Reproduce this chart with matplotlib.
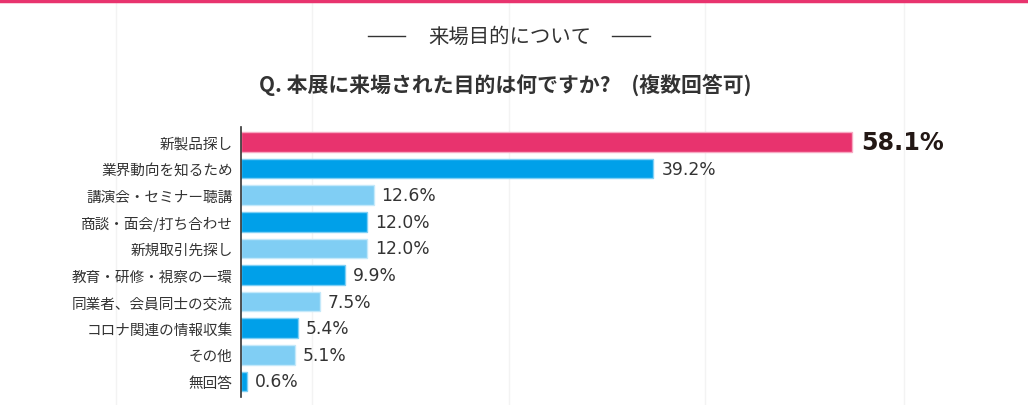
import matplotlib
matplotlib.use("Agg")
import matplotlib.pyplot as plt
from matplotlib.lines import Line2D
from matplotlib.font_manager import FontProperties

plt.rcParams['font.family'] = ['Noto Sans CJK JP', 'DejaVu Sans']

categories = ["新製品探し", "業界動向を知るため", "講演会・セミナー聴講", "商談・面会/打ち合わせ",
              "新規取引先探し", "教育・研修・視察の一環", "同業者、会員同士の交流",
              "コロナ関連の情報収集", "その他", "無回答"]
values = [58.1, 39.2, 12.6, 12.0, 12.0, 9.9, 7.5, 5.4, 5.1, 0.6]
value_labels = ["58.1%", "39.2%", "12.6%", "12.0%", "12.0%", "9.9%", "7.5%", "5.4%", "5.1%", "0.6%"]
title = "来場目的について"
subtitle = "Q. 本展に来場された目的は何ですか?　(複数回答可)"

PINK = "#E8336E"
BLUE = "#00A0E9"
LIGHT = "#80CEF4"
colors = [PINK] + [BLUE if i % 2 == 1 else LIGHT for i in range(1, len(values))]
edges = ["#F7A9C2"] + ["#7FD0F5" if i % 2 == 1 else "#C4E9FA" for i in range(1, len(values))]

W, H = 1028, 406
fig = plt.figure(figsize=(W / 100, H / 100), dpi=100)
fig.patch.set_facecolor("white")

# faint page background lines
for gx in [116, 312, 509, 705, 904]:
    fig.add_artist(Line2D([gx / W, gx / W], [0, 1], color="#F3F3F3", lw=1, zorder=0))
# top pink rule
fig.add_artist(Line2D([0, 1], [1 - 1.5 / H, 1 - 1.5 / H], color=PINK, lw=2.5))

# title with dashes
fig.text(510 / W, 1 - 37 / H, title, ha="center", va="center", fontsize=14.7, color="#333333")
fig.add_artist(Line2D([368 / W, 405 / W], [1 - 37 / H] * 2, color="#333333", lw=1))
fig.add_artist(Line2D([612 / W, 650 / W], [1 - 37 / H] * 2, color="#333333", lw=1))
fig.text(505 / W, 1 - 86 / H, subtitle, ha="center", va="center", fontsize=15,
         fontweight="bold", color="#333333")

# axes
top_px, bot_px, left_px = 128, 398, 241
ax = fig.add_axes([left_px / W, 1 - bot_px / H, (W - left_px) / W, (bot_px - top_px) / H])
ax.patch.set_alpha(0)
pxper = 10.52
ax.set_xlim(0, (W - left_px) / pxper)
c0, step = 143, 26.6
ax.set_ylim((bot_px - c0) / step, -(c0 - top_px) / step)

y = list(range(len(values)))
ax.barh(y, values, height=0.73, color=colors, edgecolor=edges, linewidth=1, zorder=2)

fp_big = FontProperties(family="DejaVu Sans", weight="bold", size=17.2)
fp_small = FontProperties(family="DejaVu Sans", size=12.3)
for i, (v, lab) in enumerate(zip(values, value_labels)):
    if i == 0:
        ax.text(v + 0.85, i, lab, va="center", ha="left", fontproperties=fp_big,
                color="#231815")
    else:
        ax.text(v + 0.75, i, lab, va="center", ha="left", fontproperties=fp_small,
                color="#333333")

ax.set_yticks(y)
ax.set_yticklabels(categories, fontsize=10.5, color="#333333")
ax.tick_params(axis="y", length=0, pad=6)
ax.set_xticks([])
for s in ["top", "right", "bottom"]:
    ax.spines[s].set_visible(False)
ax.spines["left"].set_color("#333333")
ax.spines["left"].set_linewidth(1.2)

fig.savefig("out.png", dpi=100, facecolor="white")
